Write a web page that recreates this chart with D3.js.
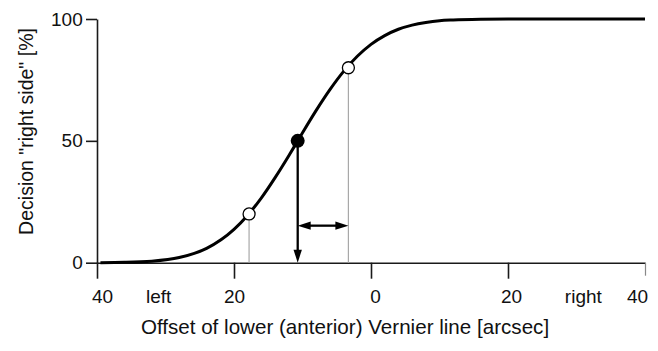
<!DOCTYPE html>
<html>
<head>
<meta charset="utf-8">
<script src="https://cdn.jsdelivr.net/npm/d3@7"></script>
<style>
  html, body { margin: 0; padding: 0; background: #fff; }
  svg { display: block; }
  text { font-family: "Liberation Sans", Arial, Helvetica, sans-serif; fill: #111; }
</style>
</head>
<body>
<svg id="chart" width="658" height="351"></svg>
<script>
// ---- data ----
const xTicks = [-40, -20, 0, 20, 40];
const xTickLabels = ["40", "20", "0", "20", "40"];
const yTicks = [0, 50, 100];
const sideLabels = ["left", "right"];
const sidePositions = [-31, 31];

// psychometric curve: offset [arcsec] vs. "right side" decisions [%]
const curveX = [-39.5, -36, -32, -28, -24, -20, -18, -16, -14, -12, -10.7, -8, -6, -4, -2, 0, 2, 4, 6, 8, 10, 12, 16, 20, 30, 40];
const curveY = [0.03, 0.14, 0.6, 2.1, 5.9, 13.7, 19.5, 26.6, 34.9, 43.9, 50, 62.5, 71.0, 78.5, 84.7, 89.6, 93.2, 95.8, 97.5, 98.6, 99.3, 99.6, 99.9, 100, 100, 100];

// marked points
const pseX = -10.7, pseY = 50;            // point of subjective equality (filled)
const thresholdX = [-17.8, -3.3];         // 20% and 80% points (open)
const thresholdY = [20, 80];
const arrowLevel = 15.2;                  // height of the double arrow [%]

// ---- drawing ----
const svg = d3.select("#chart");
const x = d3.scaleLinear().domain([-40, 40]).range([97, 645]);
const y = d3.scaleLinear().domain([0, 100]).range([262.7, 19]);
const ink = "#1a1a1a";

// axes
const xAxis = d3.axisBottom(x).tickValues(xTicks).tickSize(16).tickSizeOuter(0)
  .tickPadding(10.8).tickFormat((d, i) => xTickLabels[i]);
const gx = svg.append("g").attr("transform", `translate(0,${y(0)})`).call(xAxis);
const xNudge = [5, 0, 4, 3, -8];
gx.selectAll(".tick text").attr("dx", (d, i) => xNudge[i]);

const yAxis = d3.axisLeft(y).tickValues(yTicks).tickSize(11).tickSizeOuter(0).tickPadding(3.3);
const gy = svg.append("g").attr("transform", `translate(${x(-40)},0)`).call(yAxis);

[gx, gy].forEach(g => {
  g.select(".domain").attr("stroke", ink).attr("stroke-width", 1.6);
  g.selectAll(".tick line").attr("stroke", ink).attr("stroke-width", 1.6);
  g.selectAll(".tick text").attr("font-size", 19).attr("fill", "#111")
    .attr("font-family", '"Liberation Sans", Arial, Helvetica, sans-serif');
});
gx.select(".tick:last-of-type line").attr("stroke", "#888").attr("stroke-width", 1.2).attr("y2", 13);

// left / right labels
svg.selectAll(".side").data(sideLabels).enter().append("text")
  .attr("class", "side")
  .attr("x", (d, i) => x(sidePositions[i]))
  .attr("y", y(0) + 40.3)
  .attr("text-anchor", "middle")
  .attr("font-size", 19)
  .text(d => d);

// axis titles
svg.append("text")
  .attr("x", 345).attr("y", 334)
  .attr("text-anchor", "middle")
  .attr("font-size", 20.6)
  .text("Offset of lower (anterior) Vernier line [arcsec]");

svg.append("text")
  .attr("transform", "translate(32.5,131.5) rotate(-90)")
  .attr("text-anchor", "middle")
  .attr("font-size", 19.5)
  .text("Decision \"right side\" [%]");

// grey drop lines from threshold points
svg.selectAll(".drop").data(thresholdX).enter().append("line")
  .attr("class", "drop")
  .attr("x1", d => x(d)).attr("x2", d => x(d))
  .attr("y1", (d, i) => y(thresholdY[i])).attr("y2", y(0))
  .attr("stroke", "#a8a8a8").attr("stroke-width", 1.2);

// curve
const pts = curveX.map((d, i) => [d, curveY[i]]);
svg.append("path")
  .datum(pts)
  .attr("fill", "none")
  .attr("stroke", "#000")
  .attr("stroke-width", 3)
  .attr("d", d3.line().x(d => x(d[0])).y(d => y(d[1])).curve(d3.curveMonotoneX));

// arrows
const headL = 13, headW = 4.2;
// vertical arrow from PSE to axis
svg.append("line")
  .attr("x1", x(pseX)).attr("x2", x(pseX))
  .attr("y1", y(pseY)).attr("y2", y(0) - headL + 1)
  .attr("stroke", "#000").attr("stroke-width", 2.3);
svg.append("path")
  .attr("d", `M${x(pseX)},${y(0)} L${x(pseX) - headW},${y(0) - headL} L${x(pseX) + headW},${y(0) - headL} Z`)
  .attr("fill", "#000");

// horizontal double arrow between PSE and 80% point
const ax1 = x(pseX), ax2 = x(thresholdX[1]), ay = y(arrowLevel);
svg.append("line")
  .attr("x1", ax1 + headL - 1).attr("x2", ax2 - headL + 1)
  .attr("y1", ay).attr("y2", ay)
  .attr("stroke", "#000").attr("stroke-width", 2.3);
svg.append("path")
  .attr("d", `M${ax1},${ay} L${ax1 + headL},${ay - headW} L${ax1 + headL},${ay + headW} Z`)
  .attr("fill", "#000");
svg.append("path")
  .attr("d", `M${ax2},${ay} L${ax2 - headL},${ay - headW} L${ax2 - headL},${ay + headW} Z`)
  .attr("fill", "#000");

// points
svg.selectAll(".open").data(thresholdX).enter().append("circle")
  .attr("class", "open")
  .attr("cx", d => x(d)).attr("cy", (d, i) => y(thresholdY[i]))
  .attr("r", 6)
  .attr("fill", "#fff").attr("stroke", "#000").attr("stroke-width", 1.3);

svg.append("circle")
  .attr("cx", x(pseX)).attr("cy", y(pseY))
  .attr("r", 7)
  .attr("fill", "#000");
</script>
</body>
</html>
